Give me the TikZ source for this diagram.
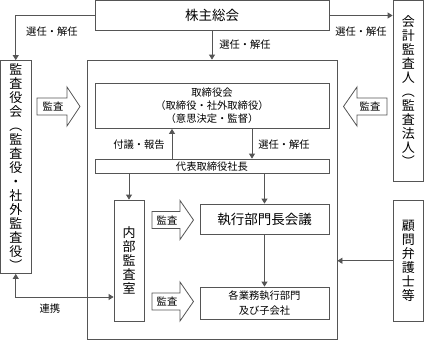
\documentclass[tikz,border=0pt]{standalone}
\usepackage{fontspec}
\setmainfont{Noto Sans CJK JP}
\usetikzlibrary{arrows.meta}
\definecolor{lc}{RGB}{85,85,85}
\tikzset{
  box/.style={draw=lc, line width=0.8pt, rectangle, inner sep=0pt, align=center, font=\fontsize{10.3}{13}\selectfont},
  vbox/.style={box, font=\fontsize{13}{14}\selectfont},
  bigtext/.style={font=\fontsize{13.5}{15}\selectfont},
  arr/.style={draw=lc, line width=0.8pt, -{Triangle[length=5pt,width=6pt]}},
  arrtwo/.style={draw=lc, line width=0.8pt, {Triangle[length=5pt,width=6pt]}-{Triangle[length=5pt,width=6pt]}},
  lbl/.style={inner sep=0pt, font=\fontsize{10.3}{13}\selectfont},
  barrow/.style={draw=lc, line width=0.8pt, fill=white, line join=miter}
}
\begin{document}
\begin{tikzpicture}[x=1pt, y=-1pt]
\useasboundingbox (0,0) rectangle (424,341);
% boxes
\node[box, bigtext, minimum width=234pt, minimum height=30pt] (sh) at (212,15.5) {株主総会};
\node[box, minimum width=249.5pt, minimum height=279pt] (big) at (212.25,199.5) {};
\node[vbox, minimum width=30.5pt, minimum height=213pt] (kansa) at (15.75,167) {監\\査\\役\\会\\︵\\監\\査\\役\\・\\社\\外\\監\\査\\役\\︶};
\node[vbox, minimum width=30.5pt, minimum height=180.5pt] (kaikei) at (408.25,90.75) {会\\計\\監\\査\\人\\︵\\監\\査\\法\\人\\︶};
\node[vbox, minimum width=30.5pt, minimum height=120.5pt] (komon) at (408.25,260.75) {顧\\問\\弁\\護\\士\\等};
\node[box, minimum width=234pt, minimum height=45pt, font=\fontsize{10.3}{13}\selectfont] (tori) at (212,106) {取締役会\\（取締役・社外取締役）\\（意思決定・監督）};
\node[box, minimum width=234pt, minimum height=14.5pt] (daihyo) at (212,166.25) {代表取締役社長};
\node[vbox, minimum width=30pt, minimum height=121pt] (naibu) at (129,260.5) {内\\部\\監\\査\\室};
\node[box, bigtext, minimum width=129pt, minimum height=30pt] (shikko) at (264.5,219) {執行部門長会議};
\node[box, minimum width=129pt, minimum height=32pt, font=\fontsize{10.3}{15}\selectfont] (kakugyo) at (264.5,303) {各業務執行部門\\及び子会社};
% block arrows
\draw[barrow] (37,98) -- (67,98) -- (67,87) -- (80,106.5) -- (67,126) -- (67,115) -- (37,115) -- cycle;
\node[lbl] (ka1) at (53,106.5) {監査};
\draw[barrow] (387,98) -- (357,98) -- (357,87) -- (343.5,106.5) -- (357,126) -- (357,115) -- (387,115) -- cycle;
\node[lbl] (ka2) at (370,106.5) {監査};
\draw[barrow] (152,211.5) -- (180,211.5) -- (180,200.5) -- (193.5,220) -- (180,239.5) -- (180,228.5) -- (152,228.5) -- cycle;
\node[lbl] (ka3) at (167,220) {監査};
\draw[barrow] (152,293) -- (180,293) -- (180,282) -- (193.5,301.5) -- (180,321) -- (180,310) -- (152,310) -- cycle;
\node[lbl] (ka4) at (167,301.5) {監査};
% connectors
\draw[arr] (sh.west) -| (kansa.north);
\draw[arr] (sh.east) -- (sh.east -| kaikei.west);
\draw[arr] (sh.south) -- (sh.south |- big.north);
\draw[arr] ([xshift=-40pt]daihyo.north) -- ([xshift=-40pt]tori.south);
\draw[arr] ([xshift=40pt]tori.south) -- ([xshift=40pt]daihyo.north);
\draw[arr] (daihyo.south -| naibu.north) -- (naibu.north);
\draw[arr] (daihyo.south -| shikko.north) -- (shikko.north);
\draw[arr] (shikko.south) -- (kakugyo.north);
\draw[arr] (komon.west) -- (komon.west -| big.east);
\draw[arrtwo] (kansa.south) |- ([yshift=-36.5pt]naibu.west);
% labels
\node[lbl] (l1) at (52,32) {選任・解任};
\node[lbl] (l2) at (361,32) {選任・解任};
\node[lbl] (l3) at (245,45) {選任・解任};
\node[lbl] (l4) at (139,145) {付議・報告};
\node[lbl] (l5) at (284,145) {選任・解任};
\node[lbl] (l6) at (50,309) {連携};
\end{tikzpicture}
\end{document}
